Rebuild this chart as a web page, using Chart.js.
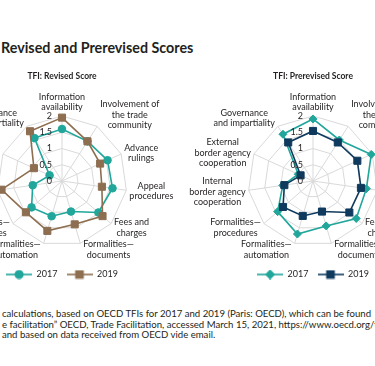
<!DOCTYPE html>
<html>
<head>
<meta charset="utf-8">
<script src="https://cdn.jsdelivr.net/npm/chart.js@4.4.1/dist/chart.umd.min.js"></script>
<style>
  html, body { margin: 0; padding: 0; background: #fff; }
  body { width: 375px; height: 366px; overflow: hidden; position: relative; font-family: Lato, "Open Sans", sans-serif; color: #231f20; }
  #title { position: absolute; left: 1px; top: 40px; font-size: 14.3px; line-height: 16px; font-weight: bold; white-space: nowrap; }
  canvas { position: absolute; top: 62px; }
  #left { left: -63px; }
  #right { left: 188px; }
  #note { position: absolute; left: 2px; top: 309px; width: 373px; font-size: 9.6px; line-height: 10.6px; white-space: nowrap; overflow: hidden; }
</style>
</head>
<body>
<div id="title">Revised and Prerevised Scores</div>
<canvas id="left" width="250" height="230"></canvas>
<canvas id="right" width="250" height="230"></canvas>
<div id="note">
  <div>calculations, based on OECD TFIs for 2017 and 2019 (Paris: OECD), which can be found</div>
  <div>e facilitation” OECD, Trade Facilitation, accessed March 15, 2021, https://www.oecd.org/trade/topics/trade-facilitation/</div>
  <div>and based on data received from OECD vide email.</div>
</div>
<script>
// categories, clockwise from the top
const categories = [
  ["Information", "availability"],
  ["Involvement of", "the trade", "community"],
  ["Advance", "rulings"],
  ["Appeal", "procedures"],
  ["Fees and", "charges"],
  ["Formalities—", "documents"],
  ["Formalities—", "automation"],
  ["Formalities—", "procedures"],
  ["Internal", "border agency", "cooperation"],
  ["External", "border agency", "cooperation"],
  ["Governance", "and impartiality"]
];
const years = ["2017", "2019"];

const revised2017 = [1.6, 1.45, 1.54, 1.57, 1.48, 0.98, 1.13, 1.24, 0.91, 0.42, 1.57];
const revised2019 = [1.95, 1.45, 1.29, 1.24, 1.65, 1.39, 1.6, 1.47, 1.88, 0.95, 1.82];
const prerevised2017 = [1.91, 1.5, 1.97, 1.66, 1.76, 1.44, 1.7, 1.44, 0.94, 0.5, 1.71];
const prerevised2019 = [1.54, 1.41, 1.5, 1.49, 1.48, 0.98, 1.12, 1.22, 0.89, 0.42, 1.41];

const scaleMin = 0;
const scaleMax = 2;
const scaleStep = 0.5;

const teal = "#20a69a";
const brown = "#8d6e50";
const navy = "#0f3a5e";
const textColor = "#231f20";
const gridColor = "#d9d9d9";

// line + marker swatch for the legend
function legendIcon(ds) {
  const c = document.createElement("canvas");
  c.width = 26; c.height = 10;
  const g = c.getContext("2d");
  g.strokeStyle = ds.borderColor;
  g.fillStyle = ds.borderColor;
  g.lineWidth = 1.6;
  g.beginPath(); g.moveTo(0, 5); g.lineTo(26, 5); g.stroke();
  Chart.helpers.drawPoint(g, { pointStyle: ds.pointStyle, radius: ds.pointRadius, borderWidth: 1 }, 13, 5);
  g.fill();
  return c;
}

// tick labels left of the axis, category labels placed like the original
const radarText = {
  id: "radarText",
  afterDraw(chart) {
    const r = chart.scales.r;
    const ctx = chart.ctx;
    const lineH = 10.5;
    ctx.save();
    ctx.fillStyle = textColor;
    ctx.font = "9px Lato";
    ctx.textBaseline = "middle";
    ctx.textAlign = "right";
    r.ticks.forEach(t => {
      ctx.fillText(String(t.value), r.xCenter - 10, r.yCenter - r.getDistanceFromCenterForValue(t.value));
    });
    ctx.textAlign = "center";
    chart.data.labels.forEach((lines, i) => {
      const p = r.getPointPosition(i, r.drawingArea);
      const sin = (p.x - r.xCenter) / r.drawingArea;
      const cos = (r.yCenter - p.y) / r.drawingArea;
      const w = Math.max(...lines.map(l => ctx.measureText(l).width));
      const h = lines.length * lineH;
      let left;
      if (Math.abs(sin) < 0.05) left = p.x - w / 2;
      else if (sin > 0) left = p.x + 3;
      else left = p.x - 3 - w;
      const dy = cos > 0 ? -(h / 2 + 3.5) * Math.pow(cos, 3) : -(h / 2) * cos * 0.6;
      const top = p.y + dy - h / 2;
      lines.forEach((l, k) => ctx.fillText(l, left + w / 2, top + lineH * (k + 0.5)));
    });
    ctx.restore();
  }
};

function makeRadar(id, title, d2017, d2019, color2019, style2017, radius2017) {
  new Chart(document.getElementById(id), {
    type: "radar",
    data: {
      labels: categories,
      datasets: [
        { label: years[0], data: d2017, borderColor: teal, backgroundColor: teal,
          pointStyle: style2017, pointRadius: radius2017, pointBorderWidth: 1,
          borderWidth: 1.6, fill: false, order: 1 },
        { label: years[1], data: d2019, borderColor: color2019, backgroundColor: color2019,
          pointStyle: "rect", pointRadius: 5, pointBorderWidth: 1,
          borderWidth: 1.6, fill: false, order: 0 }
      ]
    },
    options: {
      responsive: false,
      animation: false,
      devicePixelRatio: 1,
      layout: { padding: { left: 60, right: 60, top: 9, bottom: 3 } },
      scales: {
        r: {
          min: scaleMin,
          max: scaleMax,
          ticks: { stepSize: scaleStep, display: false },
          grid: { color: gridColor, lineWidth: 1 },
          angleLines: { color: gridColor, lineWidth: 1 },
          pointLabels: { display: false }
        }
      },
      plugins: {
        title: {
          display: true, text: title, color: textColor,
          font: { family: "Lato", size: 8.5, weight: "bold" },
          padding: { top: 0, bottom: 20 }
        },
        legend: {
          position: "bottom",
          labels: {
            usePointStyle: true, pointStyleWidth: 26, padding: 9,
            color: textColor, font: { family: "Lato", size: 9 },
            generateLabels: chart => chart.data.datasets.map((ds, i) => ({
              text: ds.label, pointStyle: legendIcon(ds), fillStyle: ds.borderColor,
              strokeStyle: ds.borderColor, lineWidth: 0, hidden: false,
              datasetIndex: i, fontColor: textColor
            }))
          }
        },
        tooltip: { enabled: false }
      }
    },
    plugins: [radarText]
  });
}

makeRadar("left", "TFI: Revised Score", revised2017, revised2019, brown, "circle", 3.8);
makeRadar("right", "TFI: Prerevised Score", prerevised2017, prerevised2019, navy, "rectRot", 4);
</script>
</body>
</html>
